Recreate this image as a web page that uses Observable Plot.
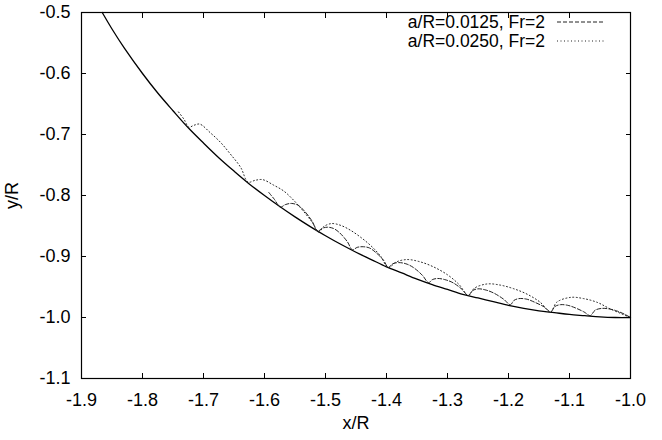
<!DOCTYPE html>
<html><head><meta charset="utf-8">
<script src="https://cdn.jsdelivr.net/npm/d3@7"></script>
<script src="https://cdn.jsdelivr.net/npm/@observablehq/plot@0.6"></script>
<style>
body{margin:0;background:#fff}
#wrap{position:relative;width:662px;height:440px;font-family:"Liberation Sans",Arial,sans-serif}
#legend{position:absolute;left:0;top:0;pointer-events:none}
</style>
</head><body><div id="wrap"></div>
<script>
// Axis ticks
const xTicks = [-1.9, -1.8, -1.7, -1.6, -1.5, -1.4, -1.3, -1.2, -1.1, -1.0];
const yTicks = [-1.1, -1.0, -0.9, -0.8, -0.7, -0.6, -0.5];

// Legend labels
const seriesNames = ["a/R=0.0125, Fr=2", "a/R=0.0250, Fr=2"];

// Surface (solid curve)
const surfX = [-1.866,-1.85,-1.83,-1.80,-1.775,-1.75,-1.725,-1.70,-1.675,-1.65,-1.625,-1.60,-1.575,-1.55,-1.525,-1.50,-1.475,-1.45,-1.425,-1.40,-1.375,-1.35,-1.325,-1.30,-1.275,-1.25,-1.225,-1.20,-1.175,-1.15,-1.125,-1.10,-1.075,-1.05,-1.025,-1.0];
const surfY = [-0.500,-0.527,-0.558,-0.600,-0.632,-0.661,-0.689,-0.714,-0.738,-0.760,-0.781,-0.800,-0.818,-0.835,-0.851,-0.866,-0.880,-0.893,-0.905,-0.917,-0.927,-0.937,-0.946,-0.954,-0.962,-0.968,-0.974,-0.980,-0.985,-0.989,-0.992,-0.995,-0.997,-0.999,-1.000,-1.000];

// a/R=0.0125 (dashed)
const dashX = [-1.593,-1.584,-1.574,-1.566,-1.556,-1.545,-1.535,-1.522,-1.513,
  -1.506,-1.497,-1.487,-1.477,-1.464,-1.456,
  -1.448,-1.438,-1.428,-1.418,-1.405,-1.397,
  -1.390,-1.380,-1.368,-1.356,-1.341,-1.331,
  -1.325,-1.316,-1.304,-1.291,-1.276,-1.266,
  -1.259,-1.250,-1.237,-1.224,-1.208,-1.197,
  -1.191,-1.183,-1.170,-1.157,-1.141,-1.131,
  -1.124,-1.115,-1.103,-1.091,-1.076,-1.066,
  -1.058,-1.046,-1.035,-1.023,-1.009,-1.000];
const dashY = [-0.795,-0.806,-0.819,-0.815,-0.813,-0.816,-0.825,-0.842,-0.859,
  -0.854,-0.852,-0.854,-0.861,-0.876,-0.889,
  -0.885,-0.884,-0.886,-0.893,-0.906,-0.918,
  -0.912,-0.910,-0.912,-0.918,-0.931,-0.943,
  -0.938,-0.936,-0.938,-0.943,-0.954,-0.964,
  -0.956,-0.953,-0.955,-0.960,-0.970,-0.979,
  -0.972,-0.969,-0.970,-0.975,-0.983,-0.991,
  -0.982,-0.979,-0.980,-0.984,-0.991,-0.997,
  -0.988,-0.985,-0.986,-0.989,-0.995,-1.000];

// a/R=0.0250 (dotted)
const dotX = [-1.741,-1.732,-1.724,-1.716,-1.706,-1.689,-1.672,-1.656,-1.639,-1.627,
  -1.615,-1.603,-1.585,-1.568,-1.552,-1.536,-1.521,-1.511,
  -1.503,-1.490,-1.475,-1.459,-1.443,-1.426,-1.410,-1.397,
  -1.384,-1.366,-1.344,-1.323,-1.300,-1.281,-1.266,
  -1.256,-1.235,-1.213,-1.191,-1.169,-1.148,-1.131,
  -1.121,-1.098,-1.077,-1.055,-1.033,-1.000];
const dotY = [-0.663,-0.675,-0.688,-0.685,-0.683,-0.697,-0.713,-0.732,-0.754,-0.778,
  -0.775,-0.774,-0.783,-0.793,-0.808,-0.826,-0.845,-0.860,
  -0.851,-0.846,-0.849,-0.857,-0.868,-0.882,-0.899,-0.918,
  -0.909,-0.905,-0.909,-0.917,-0.930,-0.946,-0.964,
  -0.952,-0.945,-0.947,-0.953,-0.962,-0.975,-0.991,
  -0.975,-0.967,-0.969,-0.975,-0.986,-1.000];

const toRows = (xs, ys) => xs.map((x, i) => ({x, y: ys[i]}));
const surface = toRows(surfX, surfY);
const dashed = toRows(dashX, dashY);
const dotted = toRows(dotX, dotY);

const FONT = '"Liberation Sans", Arial, sans-serif';
const fmt = d => d.toFixed(1);

const chart = Plot.plot({
  width: 662, height: 440,
  marginLeft: 81, marginRight: 32, marginTop: 12, marginBottom: 62,
  style: {fontFamily: FONT, fontSize: "18px", color: "#000", background: "#fff", overflow: "visible"},
  x: {domain: [-1.9, -1.0]},
  y: {domain: [-1.1, -0.5]},
  marks: [
    Plot.line(surface, {x: "x", y: "y", stroke: "#000", strokeWidth: 1.3, curve: "catmull-rom"}),
    Plot.line(dashed, {x: "x", y: "y", stroke: "#222", strokeWidth: 1, strokeDasharray: "4,2", curve: "catmull-rom"}),
    Plot.line(dotted, {x: "x", y: "y", stroke: "#222", strokeWidth: 1, strokeDasharray: "1,2.5", curve: "catmull-rom"}),
    Plot.axisX(xTicks, {anchor: "bottom", tickSize: -5, tickFormat: () => "", label: null}),
    Plot.axisX(xTicks, {anchor: "top", tickSize: -5, tickFormat: () => "", label: null}),
    Plot.axisY(yTicks, {anchor: "left", tickSize: -5, tickFormat: () => "", label: null}),
    Plot.axisY(yTicks, {anchor: "right", tickSize: -5, tickFormat: () => "", label: null}),
    Plot.axisX(xTicks, {anchor: "bottom", tickSize: 0, tickPadding: 15, tickFormat: fmt,
      label: "x/R", labelAnchor: "center", labelArrow: "none", labelOffset: 50}),
    Plot.axisY(yTicks, {anchor: "left", tickSize: 0, tickPadding: 11, tickFormat: fmt,
      label: "y/R", labelAnchor: "center", labelArrow: "none", labelOffset: 76}),
    Plot.frame({stroke: "#000", strokeWidth: 1.2})
  ]
});

const wrap = document.getElementById("wrap");
wrap.appendChild(chart);

// Legend (inside the frame, top right)
const ns = "http://www.w3.org/2000/svg";
const leg = document.createElementNS(ns, "svg");
leg.setAttribute("id", "legend");
leg.setAttribute("width", 662);
leg.setAttribute("height", 60);
const rowsY = [22, 41];
const dashes = ["4,2", "1,2.5"];
seriesNames.forEach((name, i) => {
  const t = document.createElementNS(ns, "text");
  t.setAttribute("x", 545);
  t.setAttribute("y", rowsY[i]);
  t.setAttribute("text-anchor", "end");
  t.setAttribute("dominant-baseline", "central");
  t.setAttribute("font-family", FONT);
  t.setAttribute("font-size", "17.5px");
  t.textContent = name;
  leg.appendChild(t);
  const l = document.createElementNS(ns, "line");
  l.setAttribute("x1", 557); l.setAttribute("x2", 605);
  l.setAttribute("y1", rowsY[i]); l.setAttribute("y2", rowsY[i]);
  l.setAttribute("stroke", "#222");
  l.setAttribute("stroke-width", 1);
  l.setAttribute("stroke-dasharray", dashes[i]);
  leg.appendChild(l);
});
wrap.appendChild(leg);
</script>
</body></html>
